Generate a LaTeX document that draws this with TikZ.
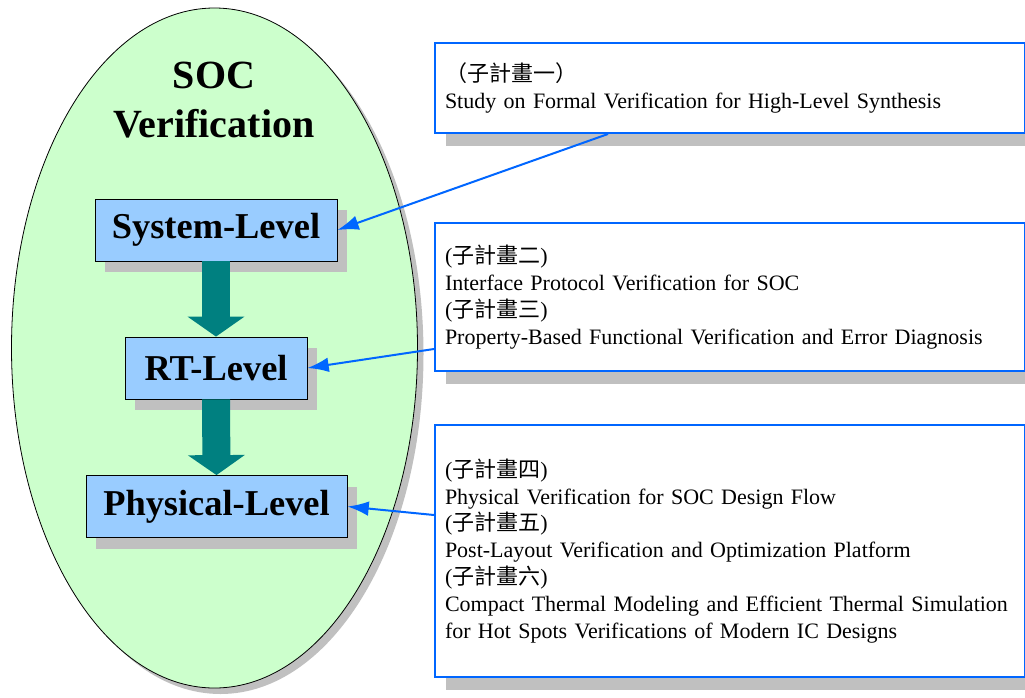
\documentclass[tikz,border=0pt]{standalone}
\usepackage{fontspec}
\setmainfont{Liberation Serif}
\newfontfamily\cjk{Noto Sans CJK TC}
\usepackage{tikz}
\usetikzlibrary{arrows.meta,shapes.geometric,shadows}
\definecolor{socgreen}{RGB}{204,255,204}
\definecolor{levelblue}{RGB}{153,204,255}
\definecolor{flowteal}{RGB}{0,128,128}
\definecolor{linkblue}{RGB}{0,102,255}
\definecolor{shadowgray}{RGB}{192,192,192}

\begin{document}
\begin{tikzpicture}[
  x=0.75pt, y=-0.75pt,
  socoval/.style={ellipse, draw=black, line width=0.6pt, fill=socgreen,
                  inner sep=0pt, minimum width=304.5pt, minimum height=510pt,
                  drop shadow={shadow xshift=4.5pt, shadow yshift=-4.5pt,
                               fill=shadowgray, opacity=1}},
  soctitle/.style={font=\fontsize{30pt}{37pt}\selectfont\bfseries, align=center},
  levelbox/.style={draw=black, line width=0.6pt, fill=levelblue,
                   minimum height=46.5pt, inner sep=0pt,
                   font=\fontsize{27.3pt}{32pt}\selectfont\bfseries,
                   drop shadow={shadow xshift=7.5pt, shadow yshift=-8.25pt,
                                fill=shadowgray, opacity=1}},
  flowarr/.style={-{Triangle[length=15pt,width=42pt]}, line width=21pt,
                  draw=flowteal},
  planbox/.style={draw=linkblue, line width=1.5pt, fill=white, anchor=north west,
                  minimum width=442.5pt, text width=427.5pt, inner xsep=7.5pt,
                  align=left, font=\fontsize{16.5pt}{20.2pt}\selectfont,
                  drop shadow={shadow xshift=8.25pt, shadow yshift=-9.75pt,
                               fill=shadowgray, opacity=1}},
  linkarr/.style={-{Latex[length=16pt,width=11pt]}, line width=1.5pt,
                  draw=linkblue}
]
  \useasboundingbox (0,0) rectangle (1025,697);

  % Left: SOC verification oval
  \node[socoval] (soc) at (214.5,348) {};
  \node[soctitle] (soctitle) at (214,100) {SOC\\Verification};

  % Levels
  \node[levelbox, minimum width=181.5pt] (sys) at (216,230) {System-Level};
  \node[levelbox, minimum width=136.5pt] (rtl) at (216,368) {RT-Level};
  \node[levelbox, minimum width=195.75pt] (phys) at (216.5,506.5) {Physical-Level};

  \draw[flowarr] (sys.south) -- (rtl.north);
  \draw[flowarr] (rtl.south) -- (phys.north);

  % Right: sub-projects
  \node[planbox, minimum height=67.5pt] (plan1) at (434,42)
       {{\cjk （子計畫一）}\\
        Study on Formal Verification for High-Level Synthesis};
  \node[planbox, minimum height=111pt] (plan2) at (434,222)
       {({\cjk 子計畫二})\\
        Interface Protocol Verification for SOC\\
        ({\cjk 子計畫三})\\
        Property-Based Functional Verification and Error Diagnosis};
  \node[planbox, minimum height=189pt] (plan3) at (434,424)
       {({\cjk 子計畫四})\\
        Physical Verification for SOC Design Flow\\
        ({\cjk 子計畫五})\\
        Post-Layout Verification and Optimization Platform\\
        ({\cjk 子計畫六})\\
        Compact Thermal Modeling and Efficient Thermal Simulation\\
        for Hot Spots Verifications of Modern IC Designs};

  % links to levels
  \draw[linkarr] ([xshift=130.5pt]plan1.south west) -- (sys.east);
  \draw[linkarr] ([yshift=-39pt]plan2.west) -- (rtl.east);
  \draw[linkarr] ([yshift=27pt]plan3.west) -- (phys.east);
\end{tikzpicture}
\end{document}
